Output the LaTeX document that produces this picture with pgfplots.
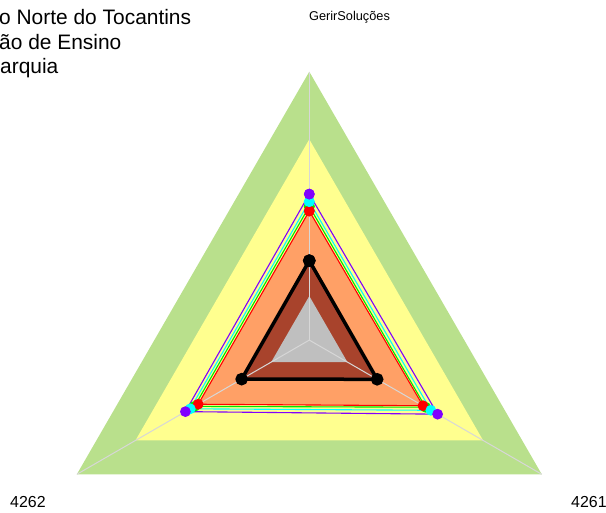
\documentclass[border=0pt]{standalone}
\usepackage{pgfplots}
\pgfplotsset{compat=1.18}
\usepgfplotslibrary{polar}
\usetikzlibrary{calc}
\usepackage{fontspec}
\setmainfont{Liberation Sans}
\definecolor{bgreen}{RGB}{185,224,140}
\definecolor{byellow}{RGB}{255,255,143}
\definecolor{borange}{RGB}{255,160,102}
\definecolor{bbrown}{RGB}{168,67,44}
\definecolor{bgray}{RGB}{191,191,191}
\definecolor{spoke}{RGB}{215,215,215}
\definecolor{sred}{RGB}{255,0,0}
\definecolor{sgreen}{RGB}{0,230,0}
\definecolor{scyan}{RGB}{0,255,255}
\definecolor{spurple}{RGB}{128,0,255}
\begin{document}
\begin{tikzpicture}[x=1bp,y=1bp]
\begin{polaraxis}[
  scale only axis, width=536.8bp, height=536.8bp,
  ymin=0, ymax=1, hide axis, clip=false,
]
% background bands
\addplot[fill=bgreen, draw=none] coordinates {(90,1) (210,1) (330,1) (90,1)};
\addplot[fill=byellow, draw=none] coordinates {(90,0.748) (210,0.748) (330,0.748) (90,0.748)};
\addplot[fill=borange, draw=none] coordinates {(90,0.482) (210,0.480) (330,0.487) (90,0.482)};
\addplot[fill=bbrown, draw=none] coordinates {(90,0.294) (210,0.291) (330,0.292) (90,0.294)};
\addplot[fill=bgray, draw=none] coordinates {(90,0.164) (210,0.164) (330,0.164) (90,0.164)};
% spokes
\addplot[spoke, line width=1bp] coordinates {(0,0) (90,1)};
\addplot[spoke, line width=1bp] coordinates {(0,0) (210,1)};
\addplot[spoke, line width=1bp] coordinates {(0,0) (330,1)};
% series
\addplot[sgreen, line width=1.1bp, mark=*, mark size=4.8bp] coordinates {(90,0.498) (210,0.494) (330,0.500) (90,0.498)};
\addplot[sred, line width=1.1bp, mark=*, mark size=4.8bp] coordinates {(90,0.481) (210,0.478) (330,0.489) (90,0.481)};
\addplot[scyan, line width=1.1bp, mark=*, mark size=4.8bp] coordinates {(90,0.516) (210,0.512) (330,0.523) (90,0.516)};
\addplot[spurple, line width=1.1bp, mark=*, mark size=4.8bp] coordinates {(90,0.544) (210,0.533) (330,0.552) (90,0.544)};
\addplot[black, line width=3.5bp, mark=*, mark size=4.5bp] coordinates {(90,0.296) (210,0.291) (330,0.292) (90,0.296)};
\coordinate (O) at (axis cs:0,0);
\end{polaraxis}
\pgfresetboundingbox
\path[use as bounding box] ($(O)+(-309.3,-172.9)$) rectangle ($(O)+(296.7,340.1)$);
% labels (pixel positions relative to centre)
\node[anchor=base west, inner sep=0pt, font=\fontsize{21}{24}\selectfont] at ($(O)+(-310.3,315.1)$) {o Norte do Tocantins};
\node[anchor=base west, inner sep=0pt, font=\fontsize{21}{24}\selectfont] at ($(O)+(-310.3,290.6)$) {ão de Ensino};
\node[anchor=base west, inner sep=0pt, font=\fontsize{21}{24}\selectfont] at ($(O)+(-309.3,266.6)$) {arquia};
\node[anchor=base, inner sep=0pt, font=\fontsize{12.8}{15}\selectfont] at ($(O)+(40.2,319.1)$) {GerirSoluções};
\node[anchor=base west, inner sep=0pt, font=\fontsize{16}{19}\selectfont] at ($(O)+(-299.3,-167.4)$) {4262};
\node[anchor=base west, inner sep=0pt, font=\fontsize{16}{19}\selectfont] at ($(O)+(261.7,-167.4)$) {4261};
\end{tikzpicture}
\end{document}
